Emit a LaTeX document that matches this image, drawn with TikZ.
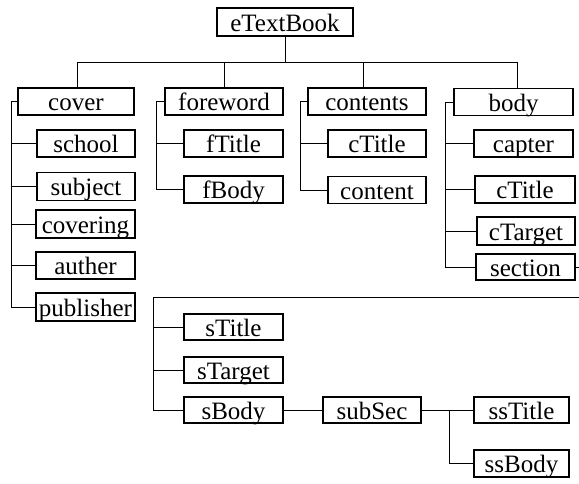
\documentclass[tikz,border=0pt]{standalone}
\usepackage{fontspec}
\setmainfont{Liberation Serif}
\begin{document}
\begin{tikzpicture}[x=1pt,y=-1pt,
  box/.style={draw,line width=1.1pt,inner sep=0pt,minimum height=27pt,
    text height=18pt,text depth=0pt,font=\fontsize{25}{25}\selectfont},
  link/.style={line width=0.9pt}]
\useasboundingbox (0,0) rectangle (579,483);
\fill[white] (0,0) rectangle (579,483);
% root
\node[box,minimum width=136pt,minimum height=28pt] (etb) at (285,22) {eTextBook};
% level 1
\node[box,minimum width=116pt] (cover) at (76,101.5) {cover};
\node[box,minimum width=118pt] (foreword) at (224,101.5) {foreword};
\node[box,minimum width=118pt] (contents) at (367,101.5) {contents};
\node[box,minimum width=119pt] (body) at (513.5,102) {body};
% cover children
\node[box,minimum width=98pt] (school) at (86,143.5) {school};
\node[box,minimum width=98pt,minimum height=28pt] (subject) at (86,186.5) {subject};
\node[box,minimum width=99pt,minimum height=28pt] (covering) at (85.5,224) {covering};
\node[box,minimum width=99pt] (auther) at (85.5,265.5) {auther};
\node[box,minimum width=99pt,minimum height=28pt] (publisher) at (85.5,307) {publisher};
% foreword children
\node[box,minimum width=99pt] (fTitle) at (233.5,143.5) {fTitle};
\node[box,minimum width=99pt] (fBody) at (233.5,189.5) {fBody};
% contents children
\node[box,minimum width=98pt] (cTitleA) at (377,143.5) {cTitle};
\node[box,minimum width=98pt] (content) at (377,190) {content};
% body children
\node[box,minimum width=99pt] (capter) at (523.5,143.5) {capter};
\node[box,minimum width=100pt] (cTitleB) at (525,189.5) {cTitle};
\node[box,minimum width=98pt,minimum height=28pt] (cTarget) at (526,231) {cTarget};
\node[box,minimum width=99pt,minimum height=26pt] (section) at (525.5,267) {section};
% section children
\node[box,minimum width=99pt,minimum height=26pt] (sTitle) at (233.5,327) {sTitle};
\node[box,minimum width=99pt,minimum height=26pt] (sTarget) at (233.5,370) {sTarget};
\node[box,minimum width=99pt,minimum height=26pt] (sBody) at (233.5,410) {sBody};
\node[box,minimum width=98pt,minimum height=26pt] (subSec) at (372,410) {subSec};
\node[box,minimum width=95pt,minimum height=26pt] (ssTitle) at (521.5,410) {ssTitle};
\node[box,minimum width=95pt] (ssBody) at (521.5,463.5) {ssBody};

% root bus
\coordinate (bus) at (285,62);
\draw[link] (etb.south) -- (etb.south |- bus);
\draw[link] ([xshift=1pt]cover.north) -- ([xshift=1pt]cover.north |- bus)
  -- ([xshift=3.5pt]body.north |- bus) -- ([xshift=3.5pt]body.north);
\draw[link] (foreword.north) -- (foreword.north |- bus);
\draw[link] ([xshift=-4pt]contents.north) -- ([xshift=-4pt]contents.north |- bus);

% cover bracket
\coordinate (cvl) at ([xshift=-6pt]cover.west);
\draw[link] (cover.west) -- (cvl) -- (cvl |- publisher.west) -- (publisher.west);
\foreach \n in {school,subject,covering,auther}
  \draw[link] (\n.west) -- (\n.west -| cvl);

% foreword bracket
\coordinate (fwl) at ([xshift=-8pt]foreword.west);
\draw[link] (foreword.west) -- (fwl) -- (fwl |- fBody.west) -- (fBody.west);
\draw[link] (fTitle.west) -- (fTitle.west -| fwl);

% contents bracket
\coordinate (ctl) at ([xshift=-7pt]contents.west);
\draw[link] (contents.west) -- (ctl) -- (ctl |- content.west) -- (content.west);
\draw[link] (cTitleA.west) -- (cTitleA.west -| ctl);

% body bracket
\coordinate (bdl) at ([xshift=-8pt]body.west);
\draw[link] (body.west) -- (bdl) -- (bdl |- section.west) -- (section.west);
\foreach \n in {capter,cTitleB,cTarget}
  \draw[link] (\n.west) -- (\n.west -| bdl);

% section to its children
\coordinate (sb) at (153,297);
\coordinate (rt) at (584,297);
\draw[link] (section.east) -- (section.east -| rt) -- (rt) -- (sb)
  -- (sb |- sBody.west) -- (sBody.west);
\draw[link] (sTitle.west) -- (sTitle.west -| sb);
\draw[link] (sTarget.west) -- (sTarget.west -| sb);

% sBody -> subSec -> children
\draw[link] (sBody.east) -- (subSec.west);
\coordinate (sj) at ([xshift=-24pt]ssTitle.west);
\draw[link] (subSec.east) -- (ssTitle.west);
\draw[link] (sj) |- (ssBody.west);
\end{tikzpicture}
\end{document}
